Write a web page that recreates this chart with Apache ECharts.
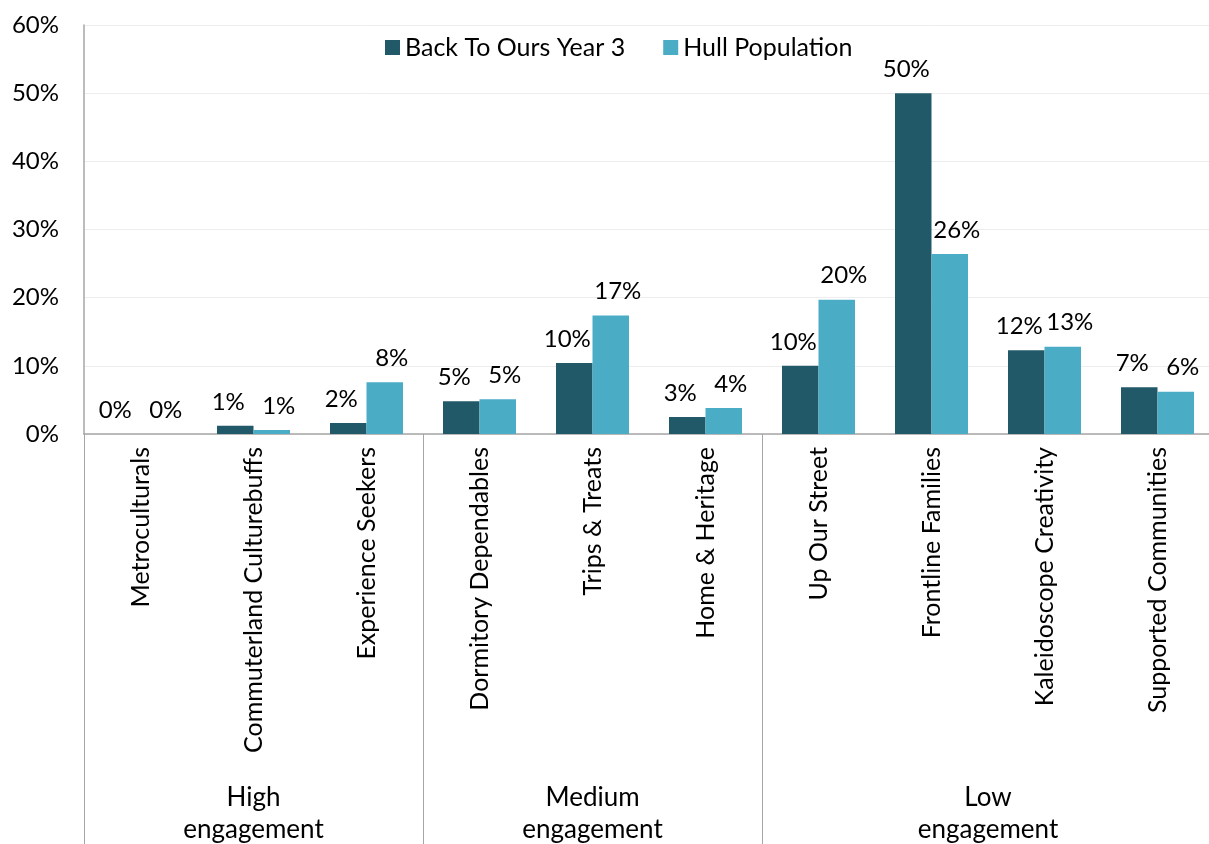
<!DOCTYPE html>
<html>
<head>
<meta charset="utf-8">
<script src="https://cdn.jsdelivr.net/npm/echarts@6/dist/echarts.min.js"></script>
<style>html,body{margin:0;padding:0;background:#fff}#c{width:1209px;height:844px}</style>
</head>
<body>
<div id="c"></div>
<script>
const categories = ['Metroculturals','Commuterland Culturebuffs','Experience Seekers','Dormitory Dependables','Trips & Treats','Home & Heritage','Up Our Street','Frontline Families','Kaleidoscope Creativity','Supported Communities'];
const groups = ['High\nengagement','Medium\nengagement','Low\nengagement'];
const groupBounds = [0, 3, 6, 10];
const groupCenters = [1.5, 4.5, 8];
const seriesNames = ['Back To Ours Year 3','Hull Population'];
const backToOurs = [0, 1.2, 1.6, 4.8, 10.4, 2.5, 10.0, 50.0, 12.3, 6.85];
const hullPopulation = [0, 0.6, 7.6, 5.1, 17.4, 3.8, 19.7, 26.4, 12.8, 6.2];

const FONT = 'Lato';
const chart = echarts.init(document.getElementById('c'));
const labelCfg = (dx) => ({
  show: true, position: 'top', distance: 12, offset: [dx, 0], color: '#000', fontSize: 24, fontFamily: FONT,
  formatter: p => Math.round(p.value) + '%'
});
chart.setOption({
  animation: false,
  textStyle: { fontFamily: FONT },
  legend: {
    top: 30, left: 380, itemWidth: 15, itemHeight: 15, itemGap: 38,
    icon: 'rect',
    textStyle: { fontSize: 25, color: '#000', fontFamily: FONT },
    data: seriesNames
  },
  grid: { left: 84, top: 25, width: 1130, height: 409, outerBoundsMode: 'none', containLabel: false },
  xAxis: [{
    type: 'category', data: categories, position: 'bottom',
    axisLine: { show: true, lineStyle: { color: '#a6a6a6', width: 1.5 } },
    axisTick: { show: false },
    axisLabel: { rotate: 90, fontSize: 25, color: '#000', margin: 13, fontFamily: FONT, interval: 0 }
  }, {
    type: 'value', min: 0, max: 10, position: 'bottom', offset: 0,
    axisLine: { show: false },
    splitLine: { show: false },
    axisTick: { show: true, customValues: groupBounds, length: 410, lineStyle: { color: '#a6a6a6', width: 1 } },
    axisLabel: {
      customValues: groupCenters, fontSize: 26, color: '#000', margin: 348, lineHeight: 32, fontFamily: FONT,
      formatter: v => groups[groupCenters.indexOf(v)]
    }
  }],
  yAxis: {
    type: 'value', min: 0, max: 60, interval: 10,
    axisLine: { show: true, lineStyle: { color: '#a6a6a6', width: 1.5 } },
    axisTick: { show: false },
    splitLine: { lineStyle: { color: '#ededed', width: 1 } },
    axisLabel: { fontSize: 24, color: '#000', margin: 25, fontFamily: FONT, formatter: v => v + '%' }
  },
  series: [{
    name: seriesNames[0], type: 'bar', data: backToOurs, barWidth: 36.5, barGap: '0%',
    itemStyle: { color: '#215968' }, label: labelCfg(-7)
  }, {
    name: seriesNames[1], type: 'bar', data: hullPopulation, barWidth: 36.5,
    itemStyle: { color: '#4bacc6' }, label: labelCfg(7)
  }]
});
</script>
</body>
</html>
